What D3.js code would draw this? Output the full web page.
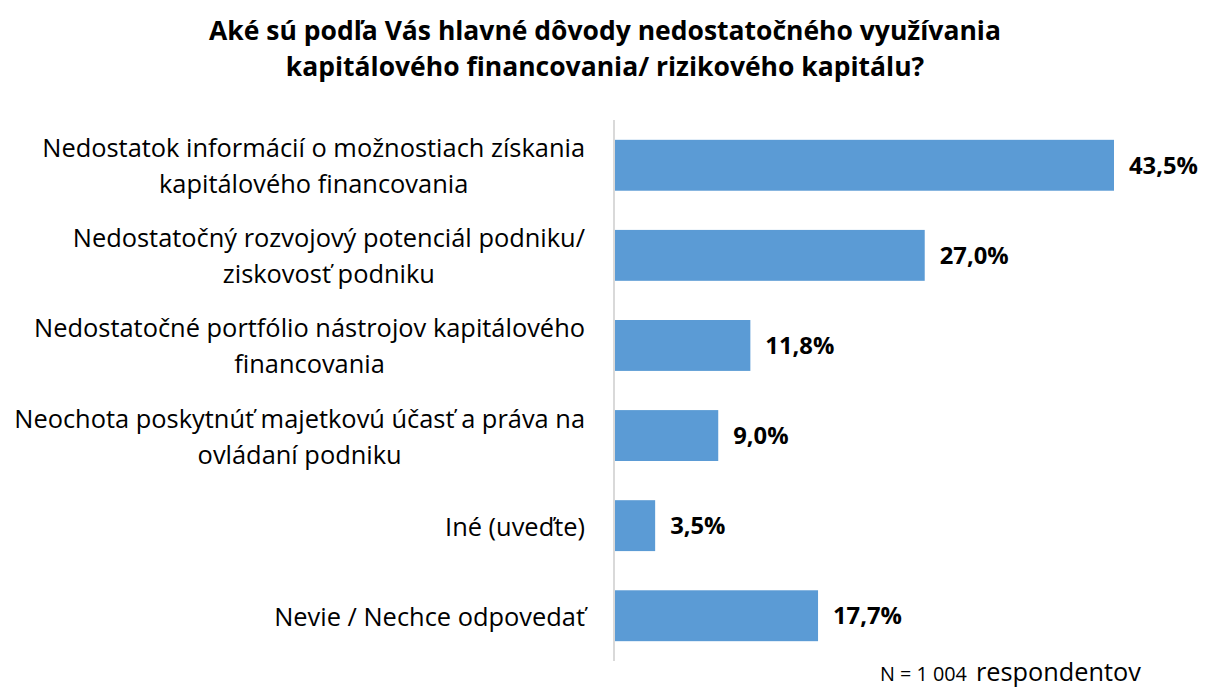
<!DOCTYPE html>
<html>
<head>
<meta charset="utf-8">
<script src="https://cdn.jsdelivr.net/npm/d3@7"></script>
<style>
  body { margin: 0; background: #fff; }
  text { font-family: "Open Sans", sans-serif; fill: #000; }
</style>
</head>
<body>
<div id="chart"></div>
<script>
var categories = [
	["Nedostatok informácií o možnostiach získania", "kapitálového financovania"],
	["Nedostatočný rozvojový potenciál podniku/", "ziskovosť podniku"],
	["Nedostatočné portfólio nástrojov kapitálového", "financovania"],
	["Neochota poskytnúť majetkovú účasť a práva na", "ovládaní podniku"],
	["Iné (uveďte)"],
	["Nevie / Nechce odpovedať"]
];
var values = [43.5, 27.0, 11.8, 9.0, 3.5, 17.7];
var titleLines = ["Aké sú podľa Vás hlavné dôvody nedostatočného využívania",
	"kapitálového financovania/ rizikového kapitálu?"];
var footNote = ["N = 1 004", "respondentov"];

var w = 1207, h = 688,
	axis_x = 614,
	top_y = 120,
	bottom_y = 661,
	label_right = 585,
	line_h = 36;

var svg = d3.select("#chart").append("svg")
	.attr("width", w)
	.attr("height", h);

// shrink/grow a text so its width matches the picture
function fit(sel, target) {
	var len = sel.node().getComputedTextLength();
	var fs = parseFloat(sel.style("font-size"));
	return fs * target / len;
}

var x = d3.scaleLinear().domain([0, 43.5]).range([axis_x + 1, 1114]);
var y = d3.scaleBand()
	.domain(d3.range(values.length))
	.range([top_y, bottom_y])
	.paddingInner(0.435)
	.paddingOuter(0.22);

// title
var title = svg.append("g").selectAll("text")
	.data(titleLines)
	.enter().append("text")
	.attr("x", 605)
	.attr("y", function(d, i) { return 40 + i * 36; })
	.attr("text-anchor", "middle")
	.style("font-weight", "bold")
	.style("font-size", "22px")
	.text(function(d) { return d; });
title.style("font-size", fit(d3.select(title.nodes()[0]), 792) + "px");

// bars
svg.append("g").selectAll("rect")
	.data(values)
	.enter().append("rect")
	.attr("x", x(0))
	.attr("y", function(d, i) { return y(i); })
	.attr("width", function(d) { return x(d) - x(0); })
	.attr("height", y.bandwidth())
	.style("fill", "#5b9bd5");

// axis line
svg.append("line")
	.attr("x1", axis_x).attr("x2", axis_x)
	.attr("y1", top_y).attr("y2", bottom_y)
	.style("stroke", "#d9d9d9")
	.style("stroke-width", 2);

// value labels
var vals = svg.append("g").selectAll("text")
	.data(values)
	.enter().append("text")
	.attr("x", function(d) { return x(d) + 15; })
	.attr("y", function(d, i) { return y(i) + y.bandwidth() / 2; })
	.attr("dy", "0.36em")
	.style("font-weight", "bold")
	.style("font-size", "20px")
	.text(function(d) { return d.toFixed(1).replace(".", ",") + "%"; });
vals.style("font-size", fit(d3.select(vals.nodes()[0]), 69) + "px");

// category labels: wrapped lines centred in a block that is right-aligned
var cats = svg.append("g").selectAll("text")
	.data(categories)
	.enter().append("text")
	.attr("text-anchor", "middle")
	.style("font-size", "20px");

cats.selectAll("tspan")
	.data(function(d) { return d; })
	.enter().append("tspan")
	.text(function(d) { return d; });

var first = d3.select(cats.nodes()[0]).select("tspan");
cats.style("font-size", fit(first, 543) + "px");

cats.each(function(d, i) {
	var t = d3.select(this);
	var spans = t.selectAll("tspan");
	var maxW = d3.max(spans.nodes(), function(n) { return n.getComputedTextLength(); });
	var cx = label_right - maxW / 2;
	var cy = y(i) + y.bandwidth() / 2;
	spans.attr("x", cx)
		.attr("y", function(s, j) { return cy + (j - (d.length - 1) / 2) * line_h + 10; });
});

// footer
var n1 = svg.append("text")
	.attr("x", 880)
	.attr("y", 681)
	.style("font-size", "15px")
	.text(footNote[0]);
n1.style("font-size", fit(n1, 87) + "px");
var n2 = svg.append("text")
	.attr("x", 976)
	.attr("y", 681)
	.style("font-size", "20px")
	.text(footNote[1]);
n2.style("font-size", fit(n2, 165) + "px");
</script>
</body>
</html>
